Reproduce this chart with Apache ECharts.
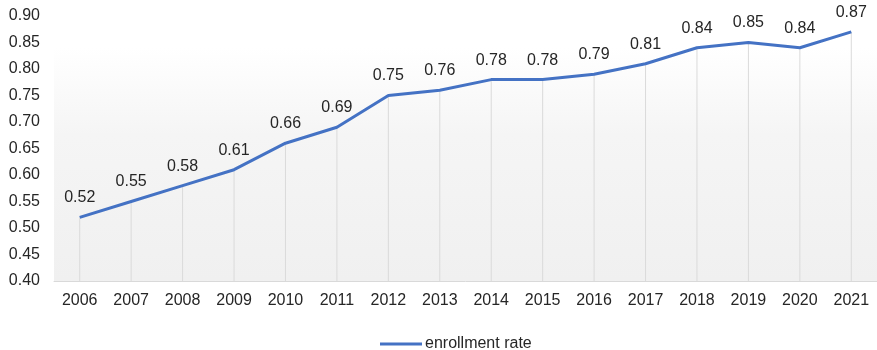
<!DOCTYPE html>
<html>
<head>
<meta charset="utf-8">
<script src="https://cdn.jsdelivr.net/npm/echarts@6/dist/echarts.min.js"></script>
<style>
  html, body { margin: 0; padding: 0; background: #ffffff; }
  #chart { width: 877px; height: 350px; }
</style>
</head>
<body>
<div id="chart"></div>
<script>
// Enrollment rate by year
const years = ['2006', '2007', '2008', '2009', '2010', '2011', '2012', '2013',
               '2014', '2015', '2016', '2017', '2018', '2019', '2020', '2021'];
const enrollmentRate = [0.52, 0.55, 0.58, 0.61, 0.66, 0.69, 0.75, 0.76,
                        0.78, 0.78, 0.79, 0.81, 0.84, 0.85, 0.84, 0.87];
const seriesName = 'enrollment rate';

const lineColor = '#4472C4';
const textColor = '#262626';
const fontFamily = '"Liberation Sans", Arial, sans-serif';

const chart = echarts.init(document.getElementById('chart'), null, { renderer: 'canvas' });

chart.setOption({
  animation: false,
  backgroundColor: '#ffffff',
  grid: {
    left: 54,
    right: -4,
    top: 16,
    bottom: 69,
    show: true,
    borderWidth: 0,
    backgroundColor: {
      type: 'linear', x: 0, y: 0, x2: 0, y2: 1,
      colorStops: [
        { offset: 0, color: '#ffffff' },
        { offset: 0.12, color: '#ffffff' },
        { offset: 0.45, color: '#f5f5f5' },
        { offset: 1, color: '#f0f0f0' }
      ]
    }
  },
  legend: {
    data: [seriesName],
    icon: 'rect',
    left: 375,
    top: 331,
    itemWidth: 42,
    itemHeight: 3,
    itemGap: 10,
    itemStyle: { color: lineColor, opacity: 1 },
    textStyle: { color: textColor, fontSize: 16, fontFamily: fontFamily, padding: [0, 0, 0, -2] }
  },
  xAxis: {
    type: 'category',
    data: years,
    boundaryGap: true,
    axisLine: { show: true, lineStyle: { color: '#d9d9d9', width: 1 } },
    axisTick: { show: false },
    splitLine: { show: false },
    axisLabel: { color: textColor, fontSize: 16, fontFamily: fontFamily, margin: 12 }
  },
  yAxis: {
    type: 'value',
    min: 0.40,
    max: 0.90,
    interval: 0.05,
    axisLine: { show: false },
    axisTick: { show: false },
    splitLine: { show: false },
    axisLabel: {
      color: textColor, fontSize: 16, fontFamily: fontFamily, margin: 14,
      formatter: v => v.toFixed(2)
    }
  },
  series: [
    {
      // drop lines from each point down to the axis
      name: 'drop',
      type: 'bar',
      data: enrollmentRate,
      barWidth: 1,
      silent: true,
      clip: true,
      itemStyle: { color: '#dadada' },
      z: 1
    },
    {
      name: seriesName,
      type: 'line',
      data: enrollmentRate,
      symbol: 'circle',
      symbolSize: 1,
      showSymbol: true,
      lineStyle: { color: lineColor, width: 3 },
      itemStyle: { color: lineColor, opacity: 0 },
      label: {
        show: true,
        position: 'top',
        distance: 11,
        color: textColor,
        opacity: 1,
        fontSize: 16,
        fontFamily: fontFamily,
        formatter: p => p.value.toFixed(2)
      },
      labelLayout: { hideOverlap: false },
      z: 3
    }
  ]
});
</script>
</body>
</html>
